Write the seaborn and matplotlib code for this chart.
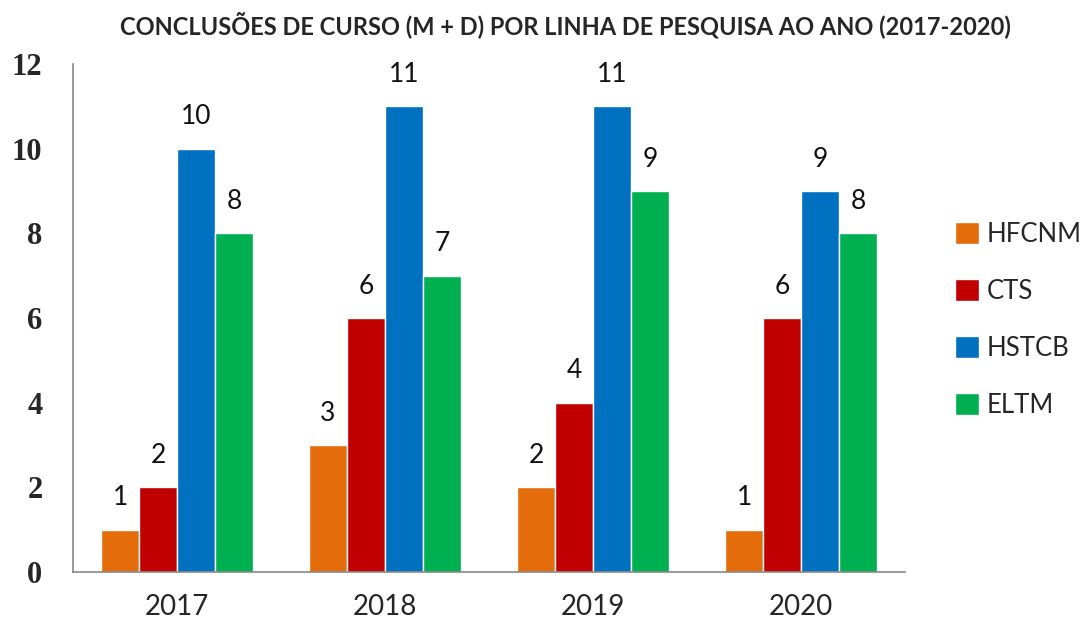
import matplotlib
matplotlib.use("Agg")
import matplotlib.pyplot as plt
import seaborn as sns
import pandas as pd
from matplotlib.ticker import FixedLocator

years = ["2017", "2018", "2019", "2020"]
series = ["HFCNM", "CTS", "HSTCB", "ELTM"]
hfcnm = [1, 3, 2, 1]
cts = [2, 6, 4, 6]
hstcb = [10, 11, 11, 9]
eltm = [8, 7, 9, 8]
colors = ["#E46C0A", "#C00000", "#0070C0", "#00B050"]
title = "CONCLUSÕES DE CURSO (M + D) POR LINHA DE PESQUISA AO ANO (2017-2020)"

rows = []
for name, vals in zip(series, [hfcnm, cts, hstcb, eltm]):
    for y, v in zip(years, vals):
        rows.append({"Ano": y, "Linha": name, "Valor": v})
df = pd.DataFrame(rows)

sns.set_style("white")
plt.rcParams["font.family"] = ["Lato", "DejaVu Sans"]

fig = plt.figure(figsize=(10.85, 6.27), dpi=100)
ax = fig.add_axes([73 / 1085, 1 - 572 / 627, (905 - 73) / 1085, (572 - 64) / 627])

sns.barplot(data=df, x="Ano", y="Valor", hue="Linha", hue_order=series, order=years,
            palette=colors, width=0.73, saturation=1, ax=ax, legend=True)

for cont in ax.containers:
    ax.bar_label(cont, labels=[f"{int(v)}" for v in cont.datavalues], padding=14,
                 fontsize=19, color="#111111")

ax.set_ylim(0, 12)
ax.set_xlim(-0.5, 3.5)
ax.set_yticks(range(0, 13, 2))
ax.set_xlabel("")
ax.set_ylabel("")
ax.tick_params(axis="y", length=8, width=1, color="#888888", pad=14, labelsize=22)
ax.tick_params(axis="x", length=0, pad=16, labelsize=20)
for lab in ax.get_yticklabels():
    lab.set_family("Liberation Serif")
    lab.set_fontweight("bold")

# boundary ticks on x axis (Excel style)
ax.xaxis.set_minor_locator(FixedLocator([-0.5, 0.5, 1.5, 2.5, 3.5]))
ax.tick_params(axis="x", which="minor", length=8, width=1, color="#888888")

sns.despine(ax=ax)
for s in ["left", "bottom"]:
    ax.spines[s].set_color("#888888")
    ax.spines[s].set_linewidth(1.2)

leg = ax.legend(loc="center left", bbox_to_anchor=(955 / 1085, 1 - 320 / 627),
                bbox_transform=fig.transFigure, frameon=False, borderpad=0, borderaxespad=0,
                fontsize=18.5, handlelength=0.95, handleheight=0.95, handletextpad=0.3,
                labelspacing=1.25)

fig.text(565 / 1085, 1 - 25 / 627, title, ha="center", va="center", fontsize=17, fontweight="bold")

fig.savefig("out.png", dpi=100)
